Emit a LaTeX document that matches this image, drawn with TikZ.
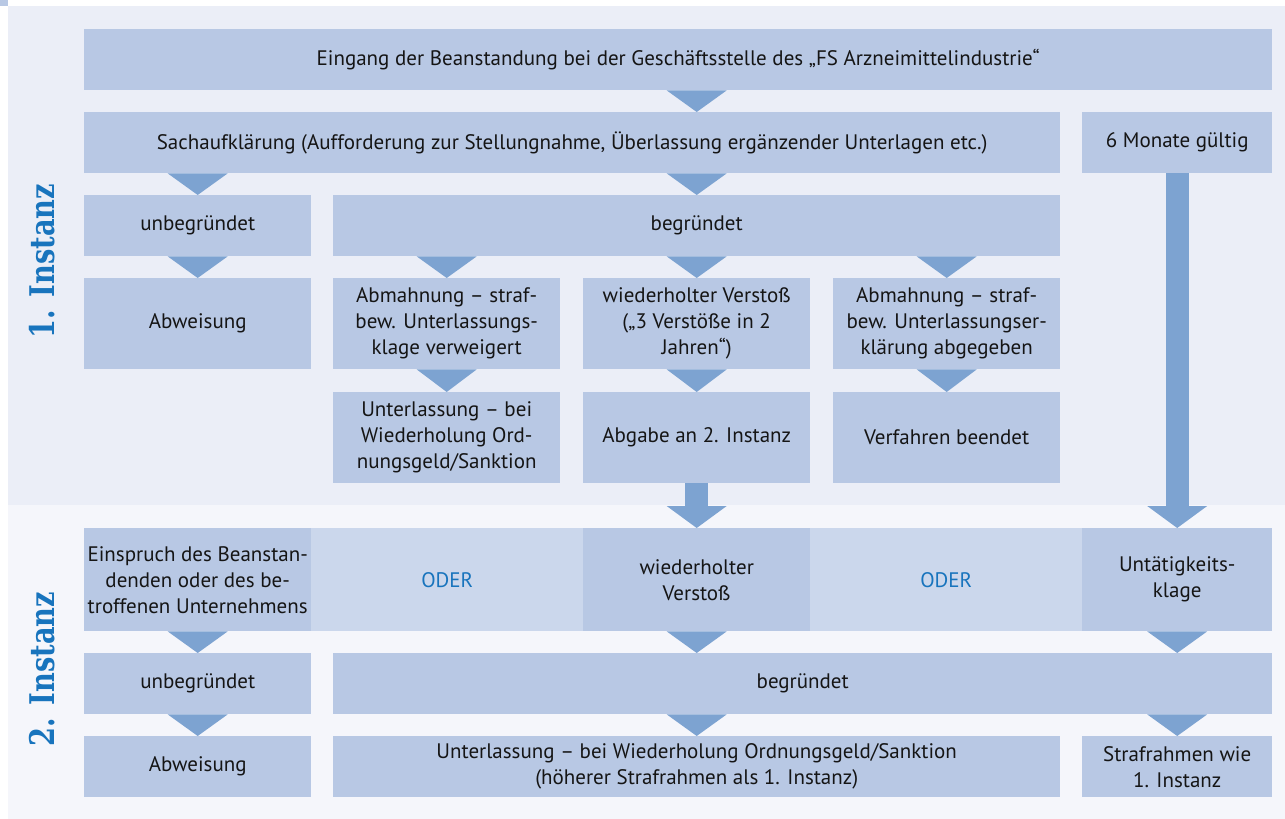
\documentclass[tikz,border=0pt]{standalone}
\usepackage{fontspec}
\setmainfont{PT Sans}
\newfontfamily\lblfont{DejaVu Serif Bold}
\usetikzlibrary{calc}
\definecolor{boxc}{HTML}{B8C8E4}
\definecolor{arrc}{HTML}{7DA3D1}
\definecolor{pana}{HTML}{EBEEF7}
\definecolor{panb}{HTML}{F5F6FB}
\definecolor{odc}{HTML}{CBD7EC}
\definecolor{bluet}{HTML}{1874BD}
\definecolor{textc}{HTML}{151515}
\newcommand\mybox[6][boxc]{\node[box, fill=#1, minimum width=#4pt, minimum height=#5pt, anchor=north west] (#2) at (#3) {#6};}
\newcommand\tri[3]{%
  \coordinate (tt) at (#1.north |- #2.south);
  \coordinate (tb) at (#1.north |- #3.north);
  \fill[arrc] ($(tt)+(-30,0)$) -- ($(tt)+(30,0)$) -- (tb) -- cycle;}
\newcommand\longarr[3]{%
  \coordinate (ss) at (#1.north |- #2.south);
  \coordinate (tb) at (#1.north |- #3.north);
  \fill[arrc] ($(ss)+(-11.5,0)$) rectangle ($(tb)+(11.5,-22)$);
  \fill[arrc] ($(tb)+(-30,-22)$) -- ($(tb)+(30,-22)$) -- (tb) -- cycle;}
\begin{document}
\begin{tikzpicture}[x=1pt,y=-1pt,
  box/.style={draw=none, inner sep=0pt, align=center, text=textc,
    font=\fontsize{21}{26}\selectfont},
  lbl/.style={rotate=90, xscale=0.8, text=bluet, font=\lblfont\fontsize{34}{36}\selectfont}]
\useasboundingbox (0,0) rectangle (1285,819);
\fill[white] (0,0) rectangle (1285,819);
\fill[pana] (8,6) rectangle (1285,505);
\fill[panb] (8,505) rectangle (1285,819);
\fill[boxc] (0,0) rectangle (8,6);
% 1. Instanz
\mybox{ein}{84,29}{1188}{61}{Eingang der Beanstandung bei der Geschäftsstelle des „FS Arzneimittelindustrie“}
\mybox{sach}{84,112}{976}{61}{Sachaufklärung (Aufforderung zur Stellungnahme, Überlassung ergänzender Unterlagen etc.)}
\mybox{mon}{1082,112}{190}{61}{6 Monate gültig}
\mybox{unba}{84,195}{227}{61}{unbegründet}
\mybox{bega}{333,195}{727}{61}{begründet}
\mybox{abwa}{84,278}{227}{91}{Abweisung}
\mybox{abma}{333,278}{227}{91}{Abmahnung – straf-\\bew. Unterlassungs-\\klage verweigert}
\mybox{wva}{583,278}{227}{91}{wiederholter Verstoß\\(„3 Verstöße in 2\\Jahren“)}
\mybox{abmb}{833,278}{227}{91}{Abmahnung – straf-\\bew. Unterlassungser-\\klärung abgegeben}
\mybox{unta}{333,392}{227}{91}{Unterlassung – bei\\Wiederholung Ord-\\nungsgeld/Sanktion}
\mybox{abg}{583,392}{227}{91}{Abgabe an 2. Instanz}
\mybox{verf}{833,392}{227}{91}{Verfahren beendet}
% 2. Instanz
\mybox{einb}{84,528}{227}{103}{Einspruch des Beanstan-\\denden oder des be-\\troffenen Unternehmens}
\mybox[odc]{odera}{311,528}{272}{103}{\textcolor{bluet}{ODER}}
\mybox{wvb}{583,528}{227}{103}{wiederholter\\Verstoß}
\mybox[odc]{oderb}{810,528}{272}{103}{\textcolor{bluet}{ODER}}
\mybox{utk}{1082,528}{190}{103}{Untätigkeits-\\klage}
\mybox{unbb}{84,653}{227}{61}{unbegründet}
\mybox{begb}{333,653}{939}{61}{begründet}
\mybox{abwb}{84,736}{227}{61}{Abweisung}
\mybox{untb}{333,736}{727}{61}{Unterlassung – bei Wiederholung Ordnungsgeld/Sanktion\\(höherer Strafrahmen als 1. Instanz)}
\mybox{str}{1082,736}{190}{61}{Strafrahmen wie\\1. Instanz}
% labels
\node[lbl] (la) at (42,261) {1. Instanz};
\node[lbl] (lb) at (42,669) {2. Instanz};
% arrows
\tri{wva}{ein}{sach}
\tri{unba}{sach}{unba}
\tri{wva}{sach}{bega}
\tri{unba}{unba}{abwa}
\tri{abma}{bega}{abma}
\tri{wva}{bega}{wva}
\tri{abmb}{bega}{abmb}
\tri{abma}{abma}{unta}
\tri{wva}{wva}{abg}
\tri{abmb}{abmb}{verf}
\longarr{abg}{abg}{wvb}
\longarr{mon}{mon}{utk}
\tri{einb}{einb}{unbb}
\tri{wvb}{wvb}{begb}
\tri{utk}{utk}{begb}
\tri{unbb}{unbb}{abwb}
\tri{wvb}{begb}{untb}
\tri{utk}{begb}{str}
\end{tikzpicture}
\end{document}
